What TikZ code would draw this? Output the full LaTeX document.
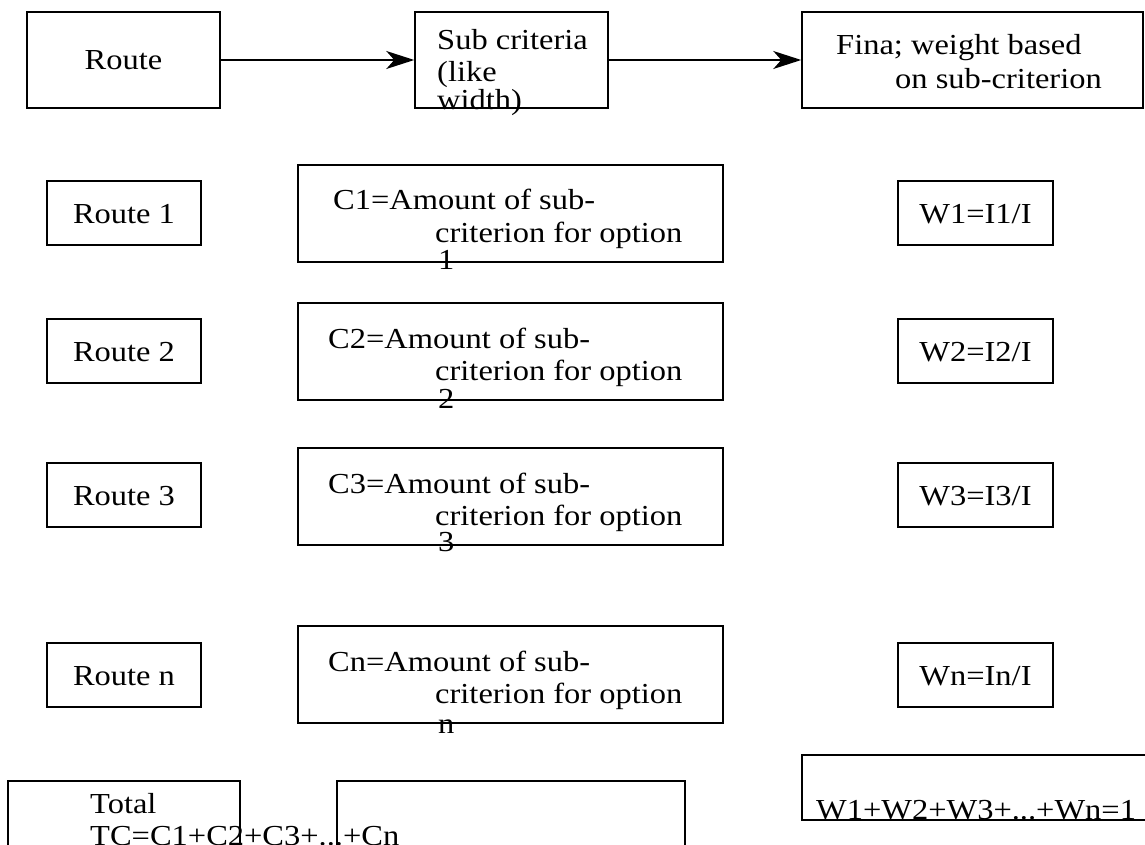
\documentclass[tikz,border=0pt]{standalone}
\usepackage{fontspec}
\setmainfont{Liberation Serif}[FakeStretch=1.12]
\usetikzlibrary{arrows.meta}
\begin{document}
\begin{tikzpicture}[x=1pt,y=-1pt,
  box/.style={draw,line width=1.5pt,rectangle},
  txt/.style={inner sep=0pt,anchor=base west,font=\fontsize{29}{32}\selectfont},
  ctxt/.style={inner sep=0pt,anchor=base,font=\fontsize{29}{32}\selectfont},
  arr/.style={line width=1.5pt,-{Stealth[length=28pt,width=18pt,inset=8pt]}}]
\useasboundingbox (0,0) rectangle (1145,845);
\begin{scope}
\clip (0,0) rectangle (1145,845);
% top row
\node[box,minimum width=193pt,minimum height=96pt] (route) at (123.5,60) {};
\node[box,minimum width=193pt,minimum height=96pt] (sub) at (511.5,60) {};
\node[box,minimum width=341pt,minimum height=96pt] (fina) at (972.5,60) {};
\node[ctxt] (routet) at (123.5,70) {Route};
\node[txt] (sub1) at (437,50) {Sub criteria};
\node[txt] (sub2) at (437,82) {(like};
\node[txt] (sub3) at (437,110) {width)};
\node[txt] (fina1) at (836,55) {Fina; weight based};
\node[txt] (fina2) at (895,89) {on sub-criterion};
\draw[arr] (route.east) -- (sub.west);
\draw[arr] (sub.east) -- (fina.west);
% rows
\foreach \i/\r/\c/\w/\k/\yr/\yc/\xa/\dk in {1/Route 1/C1/W1=I1\slash I/1/213/213.5/333/56,
                                2/Route 2/C2/W2=I2\slash I/2/351/351.5/328/57,
                                3/Route 3/C3/W3=I3\slash I/3/495/496.5/328/55,
                                n/Route n/Cn/Wn=In\slash I/n/675/674.5/328/59}{
  \node[box,minimum width=154pt,minimum height=64pt] (r\i) at (124,\yr) {};
  \node[ctxt] (r\i t) at (124,\yr+10) {\r};
  \node[box,minimum width=425pt,minimum height=97pt] (c\i) at (510.5,\yc) {};
  \node[txt] (c\i a) at (\xa,\yc-3.5) {\c=Amount of sub-};
  \node[txt] (c\i b) at (435,\yc+28.5) {criterion for option};
  \node[txt] (c\i c) at (438,\yc+\dk) {\k};
  \node[box,minimum width=155pt,minimum height=64pt] (w\i) at (975.5,\yr) {};
  \node[ctxt] (w\i t) at (975.5,\yr+10) {\w};
}
% bottom row
\node[box,minimum width=232pt,minimum height=90pt] (total) at (124,826) {};
\node[txt] (total1) at (90,813) {Total};
\node[txt] (total2) at (90,845) {TC=C1+C2+C3+...+Cn};
\node[box,minimum width=348pt,minimum height=90pt] (blank) at (511,826) {};
\node[box,minimum width=360pt,minimum height=65pt] (wsum) at (982,787.5) {};
\node[txt] (wsumt) at (816,819) {W1+W2+W3+...+Wn=1};
\end{scope}
\end{tikzpicture}
\end{document}
